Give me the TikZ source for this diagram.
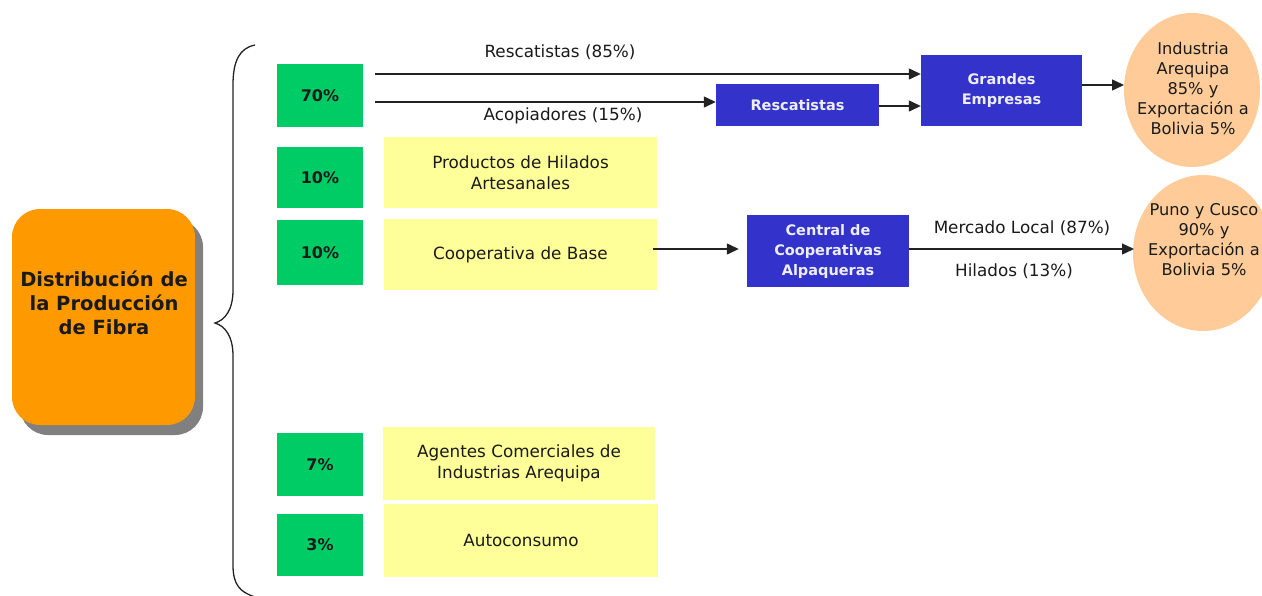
\documentclass[tikz,border=0pt]{standalone}
\usepackage{fontspec}
\setmainfont{DejaVu Sans}
\usetikzlibrary{arrows.meta,shapes.geometric,calc,shadows}
\definecolor{gbox}{HTML}{00CC66}
\definecolor{ybox}{HTML}{FFFF99}
\definecolor{bbox}{HTML}{3333CC}
\definecolor{obox}{HTML}{FF9900}
\definecolor{pe}{HTML}{FFCC99}
\definecolor{ln}{HTML}{222222}
\definecolor{txt}{HTML}{1A1A1A}
\definecolor{wt}{HTML}{EEEEF6}
\begin{document}
\begin{tikzpicture}[x=1pt,y=-1pt,
  pct/.style={fill=gbox, minimum width=86pt, inner sep=0pt,
    font=\fontsize{16}{18}\selectfont\bfseries, text=txt},
  ybx/.style={fill=ybox, inner sep=0pt, align=center,
    font=\fontsize{16.8}{21}\selectfont, text=txt},
  bbx/.style={fill=bbox, inner sep=0pt, align=center,
    font=\fontsize{14.5}{20}\selectfont\bfseries, text=wt},
  ell/.style={ellipse, fill=pe, inner sep=0pt},
  elltxt/.style={align=center, font=\fontsize{16.2}{20}\selectfont, text=txt},
  lbl/.style={font=\fontsize{16.8}{21}\selectfont, text=txt, inner sep=0pt},
  arr/.style={draw=ln, line width=1.4pt, -{Triangle[length=12pt,width=11pt]}},
  bracestyle/.style={draw=ln, line width=1.3pt}
]
\useasboundingbox (0,0) rectangle (1262,595);

% main box
\node[fill=obox, rounded corners=28pt, minimum width=183pt, minimum height=216pt,
  drop shadow={shadow xshift=8pt, shadow yshift=-10pt, fill=gray, opacity=1}]
  (main) at (103.5,317) {};
\node[align=center, font=\fontsize{19.5}{24}\selectfont\bfseries, text=txt]
  (title) at (104,303) {Distribución de\\la Producción\\de Fibra};

% brace
\draw[bracestyle] (255,45) .. controls (240,48) and (233,60) .. (233,85)
  -- (233,290) .. controls (233,310) and (225,320) .. (215,323)
  .. controls (225,326) and (233,336) .. (233,356)
  -- (233,565) .. controls (233,585) and (240,592) .. (255,597);

% percentage boxes
\node[pct, minimum height=63pt] (g70) at (320,95.5) {70\%};
\node[pct, minimum height=61pt] (g10a) at (320,177.5) {10\%};
\node[pct, minimum height=65pt] (g10b) at (320,252.5) {10\%};
\node[pct, minimum height=63pt] (g7) at (320,464.5) {7\%};
\node[pct, minimum height=62pt] (g3) at (320,545) {3\%};

% yellow boxes
\node[ybx, minimum width=273pt, minimum height=71pt] (yprod) at (520.5,172.5)
  {Productos de Hilados\\Artesanales};
\node[ybx, minimum width=273pt, minimum height=71pt] (ycoop) at (520.5,254.5)
  {Cooperativa de Base};
\node[ybx, minimum width=272pt, minimum height=73pt] (yag) at (519,463.5)
  {Agentes Comerciales de\\Industrias Arequipa};
\node[ybx, minimum width=274pt, minimum height=73pt] (yauto) at (521,540.5)
  {Autoconsumo};

% blue boxes
\node[bbx, minimum width=163pt, minimum height=42pt] (bresc) at (797.5,105) {Rescatistas};
\node[bbx, minimum width=161pt, minimum height=71pt] (bgrand) at (1001.5,90.5) {Grandes\\Empresas};
\node[bbx, minimum width=162pt, minimum height=72pt] (bcentral) at (828,251)
  {Central de\\Cooperativas\\Alpaqueras};

% ellipses
\node[ell, minimum width=136pt, minimum height=154pt] (e1) at (1192,90) {};
\node[elltxt] (e1t) at (1193,88)
  {Industria\\Arequipa\\85\% y\\Exportación a\\Bolivia 5\%};
\node[ell, minimum width=140pt, minimum height=156pt] (e2) at (1203,253) {};
\node[elltxt] (e2t) at (1204,240)
  {Puno y Cusco\\90\% y\\Exportación a\\Bolivia 5\%};

% arrows
\coordinate (s1) at (375,74);
\coordinate (s2) at (375,102);
\draw[arr] (s1) -- (s1 -| bgrand.west);
\draw[arr] (s2) -- (s2 -| bresc.west);
\coordinate (s3) at (879,106);
\draw[arr] (s3) -- (s3 -| bgrand.west);
\coordinate (s4) at (1082,85);
\draw[arr] (s4) -- (1124,85);
\coordinate (s5) at (653,249);
\draw[arr, shorten >=8pt] (s5) -- (s5 -| bcentral.west);
\coordinate (s6) at (909,249);
\draw[arr] (s6) -- (1134,249);

% labels
\node[lbl] (l1) at (560,52) {Rescatistas (85\%)};
\node[lbl] (l2) at (563,116) {Acopiadores (15\%)};
\node[lbl] (l3) at (1022,228) {Mercado Local (87\%)};
\node[lbl] (l4) at (1014,271) {Hilados (13\%)};
\end{tikzpicture}
\end{document}
